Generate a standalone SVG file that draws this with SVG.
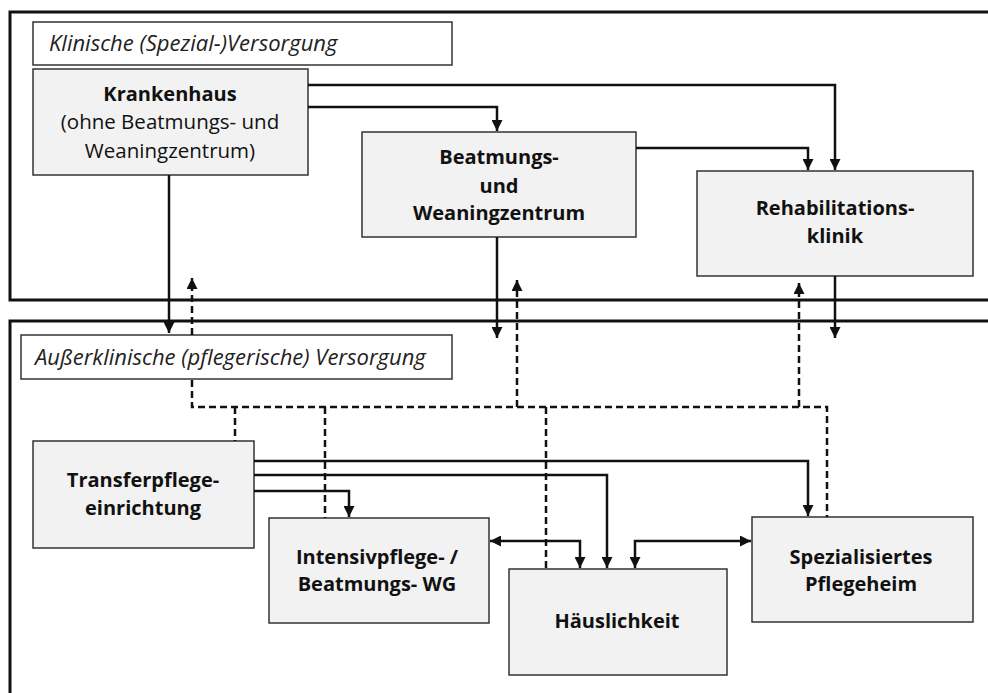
<svg xmlns="http://www.w3.org/2000/svg" width="988" height="693" viewBox="0 0 988 693">
<style>
.frame{fill:none;stroke:#111;stroke-width:3}
.lbl{fill:#fff;stroke:#333;stroke-width:1.5}
.box{fill:#f2f2f2;stroke:#333;stroke-width:1.5}
.it{font-family:"Open Sans","Liberation Sans",sans-serif;font-style:italic;font-size:22px;fill:#222}
.b{font-family:"Open Sans","Liberation Sans",sans-serif;font-weight:bold;font-size:20px;fill:#111;text-anchor:middle}
.r{font-family:"Open Sans","Liberation Sans",sans-serif;font-size:20.5px;fill:#111;text-anchor:middle}
.c{fill:none;stroke:#111;stroke-width:2.5}
.d{fill:none;stroke:#111;stroke-width:2.5;stroke-dasharray:7 4}
</style>
<defs>
<marker id="ah" viewBox="0 0 10 10" refX="10" refY="5" markerWidth="4.6" markerHeight="4.4" orient="auto-start-reverse" markerUnits="strokeWidth">
<path d="M0,0 L10,5 L0,10 z" fill="#111"/>
</marker>
</defs>
<rect width="988" height="693" fill="#fff"/>
<g id="frames">
<path class="frame" d="M988,12 H10 V300 H988"/>
<path class="frame" d="M988,321 H10 V693"/>
</g>
<g id="label-klinisch">
<rect class="lbl" x="33" y="22" width="419" height="43"/>
<text class="it" x="49" y="51">Klinische (Spezial-)Versorgung</text>
</g>
<g id="label-ausserklinisch">
<rect class="lbl" x="21" y="335" width="431" height="44"/>
<text class="it" x="35" y="365">Außerklinische (pflegerische) Versorgung</text>
</g>
<g id="krankenhaus">
<rect class="box" x="33" y="69" width="275" height="106"/>
<text class="b" x="170" y="101">Krankenhaus</text>
<text class="r" x="170" y="129">(ohne Beatmungs- und</text>
<text class="r" x="170" y="158">Weaningzentrum)</text>
</g>
<g id="beatmungszentrum">
<rect class="box" x="362" y="132" width="274" height="105"/>
<text class="b" x="499" y="164">Beatmungs-</text>
<text class="b" x="499" y="193">und</text>
<text class="b" x="499" y="220">Weaningzentrum</text>
</g>
<g id="reha">
<rect class="box" x="697" y="171" width="276" height="105"/>
<text class="b" x="835" y="215">Rehabilitations-</text>
<text class="b" x="835" y="243">klinik</text>
</g>
<g id="transfer">
<rect class="box" x="33" y="441" width="221" height="107"/>
<text class="b" x="143" y="487">Transferpflege-</text>
<text class="b" x="143" y="515">einrichtung</text>
</g>
<g id="intensiv">
<rect class="box" x="269" y="518" width="220" height="105"/>
<text class="b" x="377" y="564">Intensivpflege- /</text>
<text class="b" x="377" y="591">Beatmungs- WG</text>
</g>
<g id="haeuslichkeit">
<rect class="box" x="509" y="569" width="218" height="106"/>
<text class="b" x="617" y="628">Häuslichkeit</text>
</g>
<g id="pflegeheim">
<rect class="box" x="752" y="517" width="221" height="105"/>
<text class="b" x="861" y="564">Spezialisiertes</text>
<text class="b" x="861" y="591">Pflegeheim</text>
</g>
<g id="connectors">
<path class="c" d="M308,85 H835 V170" marker-end="url(#ah)"/>
<path class="c" d="M308,107 H497 V131" marker-end="url(#ah)"/>
<path class="c" d="M636,148 H808 V170" marker-end="url(#ah)"/>
<path class="c" d="M169,175 V333" marker-end="url(#ah)"/>
<path class="c" d="M497,237 V338" marker-end="url(#ah)"/>
<path class="c" d="M835,276 V338" marker-end="url(#ah)"/>
<path class="d" d="M192,335 V278" marker-end="url(#ah)"/>
<path class="d" d="M192,380 V407 H827 V517"/>
<path class="d" d="M517,407 V280" marker-end="url(#ah)"/>
<path class="d" d="M799,407 V283" marker-end="url(#ah)"/>
<path class="d" d="M235,407 V441"/>
<path class="d" d="M325,407 V518"/>
<path class="d" d="M546,407 V569"/>
<path class="c" d="M254,461 H808 V516" marker-end="url(#ah)"/>
<path class="c" d="M254,475 H607 V568" marker-end="url(#ah)"/>
<path class="c" d="M254,491 H349 V517" marker-end="url(#ah)"/>
<path class="c" d="M490,541 H580 V568" marker-start="url(#ah)" marker-end="url(#ah)"/>
<path class="c" d="M635,568 V541 H751" marker-start="url(#ah)" marker-end="url(#ah)"/>
</g>
</svg>
